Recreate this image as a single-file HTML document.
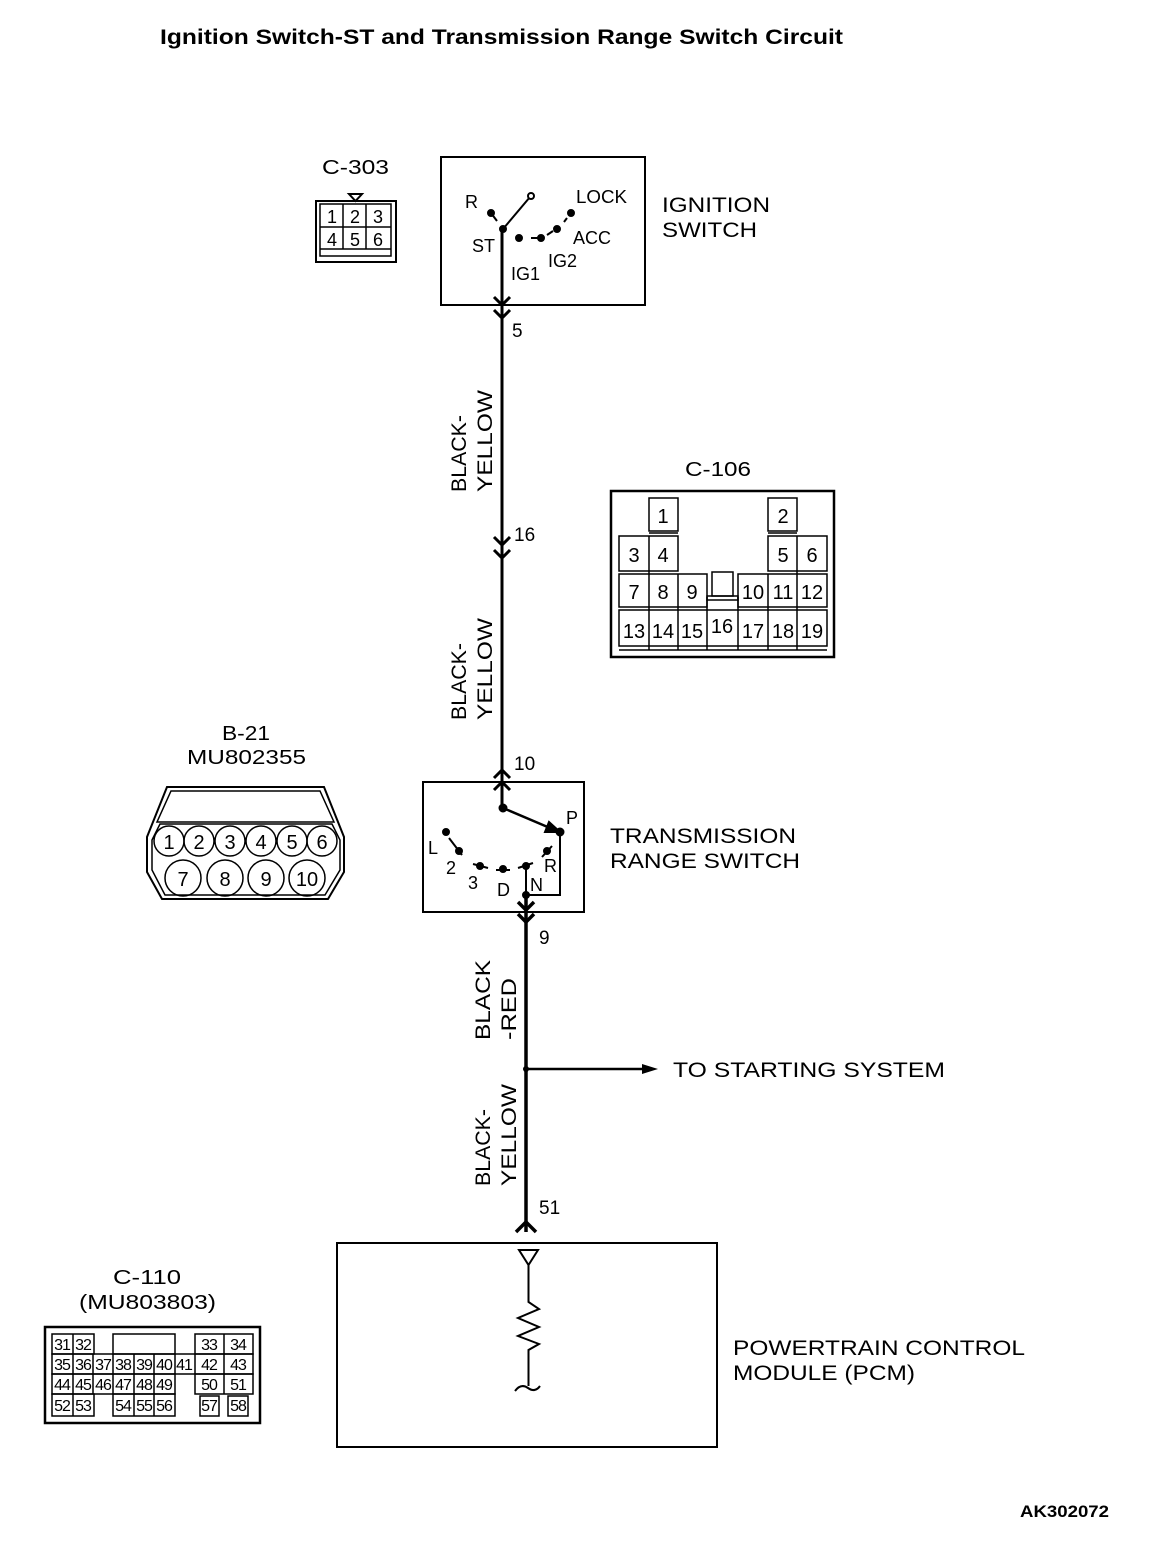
<!DOCTYPE html>
<html><head><meta charset="utf-8"><style>
html,body{margin:0;padding:0;background:#fff;}
svg{display:block;}
text{font-family:"Liberation Sans",Arial,sans-serif;fill:#000;}
</style></head><body>
<svg width="1152" height="1560" viewBox="0 0 1152 1560" xmlns="http://www.w3.org/2000/svg">
<text x="160" y="44" font-size="21" font-weight="bold" textLength="683" lengthAdjust="spacingAndGlyphs">Ignition Switch-ST and Transmission Range Switch Circuit</text>
<text x="1020" y="1517" font-size="17" font-weight="bold" textLength="89" lengthAdjust="spacingAndGlyphs">AK302072</text>

<!-- C-303 -->
<text x="322" y="174" font-size="20" textLength="67" lengthAdjust="spacingAndGlyphs">C-303</text>
<path d="M349,194 L362,194 L355.5,201 Z" fill="none" stroke="#000" stroke-width="2"/>
<rect x="316" y="201" width="80" height="61" fill="none" stroke="#000" stroke-width="2"/>
<rect x="320" y="204" width="71" height="52" fill="none" stroke="#000" stroke-width="1.5"/>
<g fill="none" stroke="#000" stroke-width="1.5">
<line x1="320" y1="227" x2="391" y2="227"/><line x1="320" y1="249" x2="391" y2="249"/>
<line x1="343" y1="204" x2="343" y2="249"/><line x1="366" y1="204" x2="366" y2="249"/>
</g>
<g font-size="18" text-anchor="middle">
<text x="332" y="223">1</text><text x="355" y="223">2</text><text x="378" y="223">3</text>
<text x="332" y="246">4</text><text x="355" y="246">5</text><text x="378" y="246">6</text>
</g>

<!-- Ignition switch -->
<rect x="441" y="157" width="204" height="148" fill="none" stroke="#000" stroke-width="2"/>
<text x="465" y="208" font-size="18">R</text>
<text x="576" y="203" font-size="18" textLength="51" lengthAdjust="spacingAndGlyphs">LOCK</text>
<text x="472" y="252" font-size="18">ST</text>
<text x="573" y="244" font-size="18">ACC</text>
<text x="548" y="267" font-size="18">IG2</text>
<text x="511" y="280" font-size="18">IG1</text>
<text x="662" y="212" font-size="21" textLength="108" lengthAdjust="spacingAndGlyphs">IGNITION</text>
<text x="662" y="237" font-size="21" textLength="95" lengthAdjust="spacingAndGlyphs">SWITCH</text>
<g stroke="#000" stroke-width="2" fill="#000">
<circle cx="491" cy="213" r="3"/><circle cx="503" cy="229" r="3"/>
<circle cx="519" cy="238" r="3"/><circle cx="541" cy="238" r="3"/>
<circle cx="557" cy="229" r="3"/><circle cx="571" cy="213" r="3"/>
<line x1="491" y1="213" x2="497" y2="221"/>
<line x1="531" y1="238" x2="538" y2="238"/>
<line x1="547" y1="235" x2="553" y2="231"/>
<line x1="567" y1="218" x2="564" y2="222"/>
<line x1="503" y1="229" x2="530" y2="197"/>
</g>
<circle cx="531" cy="196" r="3" fill="#fff" stroke="#000" stroke-width="2"/>

<!-- main wire -->
<g stroke="#000" stroke-width="3" fill="none">
<line x1="502" y1="229" x2="502" y2="808"/>
<polyline points="494,297 502,305 510,297"/>
<polyline points="494,310 502,318 510,310"/>
<polyline points="494,537 502,545 510,537"/>
<polyline points="494,550 502,558 510,550"/>
<polyline points="494,778 502,770 510,778"/>
<polyline points="494,790 502,782 510,790"/>
</g>
<text x="512" y="337" font-size="19">5</text>
<text x="514" y="541" font-size="19">16</text>
<text x="514" y="770" font-size="19">10</text>
<g font-size="21">
<text transform="translate(466,492) rotate(-90)" textLength="77" lengthAdjust="spacingAndGlyphs">BLACK-</text>
<text transform="translate(492,492) rotate(-90)" textLength="102" lengthAdjust="spacingAndGlyphs">YELLOW</text>
<text transform="translate(466,720) rotate(-90)" textLength="77" lengthAdjust="spacingAndGlyphs">BLACK-</text>
<text transform="translate(492,720) rotate(-90)" textLength="102" lengthAdjust="spacingAndGlyphs">YELLOW</text>
</g>

<!-- C-106 -->
<text x="685" y="476" font-size="20" textLength="66" lengthAdjust="spacingAndGlyphs">C-106</text>
<rect x="611" y="491" width="223" height="166" fill="none" stroke="#000" stroke-width="2.5"/>
<g fill="none" stroke="#000" stroke-width="1.5">
<rect x="649" y="498" width="29" height="33"/>
<rect x="768" y="498" width="29" height="33"/>
<rect x="619" y="536" width="59" height="35"/>
<line x1="649" y1="536" x2="649" y2="650"/>
<rect x="768" y="536" width="59" height="35"/>
<line x1="797" y1="536" x2="797" y2="650"/>
<rect x="619" y="574" width="88" height="33"/>
<line x1="678" y1="574" x2="678" y2="650"/>
<rect x="738" y="574" width="89" height="33"/>
<line x1="768" y1="574" x2="768" y2="650"/>
<rect x="619" y="610" width="208" height="36"/>
<line x1="707" y1="597" x2="707" y2="650"/><line x1="738" y1="597" x2="738" y2="650"/>
<rect x="707" y="596" width="31" height="4"/>
<rect x="712" y="572" width="21" height="24"/>
<line x1="619" y1="650" x2="827" y2="650"/>
<line x1="649" y1="533" x2="678" y2="533"/><line x1="768" y1="533" x2="797" y2="533"/>
</g>
<g font-size="20" text-anchor="middle">
<text x="663" y="523">1</text><text x="783" y="523">2</text>
<text x="634" y="562">3</text><text x="663" y="562">4</text><text x="783" y="562">5</text><text x="812" y="562">6</text>
<text x="634" y="599">7</text><text x="663" y="599">8</text><text x="692" y="599">9</text>
<text x="753" y="599">10</text><text x="783" y="599">11</text><text x="812" y="599">12</text>
<text x="634" y="638">13</text><text x="663" y="638">14</text><text x="692" y="638">15</text>
<text x="722" y="633">16</text>
<text x="753" y="638">17</text><text x="783" y="638">18</text><text x="812" y="638">19</text>
</g>

<!-- B-21 -->
<text x="222" y="740" font-size="20" textLength="48" lengthAdjust="spacingAndGlyphs">B-21</text>
<text x="187" y="764" font-size="20" textLength="119" lengthAdjust="spacingAndGlyphs">MU802355</text>
<path d="M167,787 L324,787 L344,837 L344,872 L328,899 L162,899 L147,872 L147,837 Z" fill="none" stroke="#000" stroke-width="2"/>
<path d="M171,791 L320,791 L334,822 L157,822 Z" fill="none" stroke="#000" stroke-width="1.5"/>
<path d="M152,840 L160,824 L332,824 L340,840 L340,870 L325,895 L165,895 L152,870 Z" fill="none" stroke="#000" stroke-width="1.5"/>
<g fill="none" stroke="#000" stroke-width="1.5">
<circle cx="169" cy="841" r="15"/><circle cx="199" cy="841" r="15"/><circle cx="230" cy="841" r="15"/>
<circle cx="261" cy="841" r="15"/><circle cx="292" cy="841" r="15"/><circle cx="322" cy="841" r="15"/>
<circle cx="183" cy="878" r="18"/><circle cx="225" cy="878" r="18"/><circle cx="266" cy="878" r="18"/><circle cx="307" cy="878" r="18"/>
</g>
<g font-size="20" text-anchor="middle">
<text x="169" y="849">1</text><text x="199" y="849">2</text><text x="230" y="849">3</text>
<text x="261" y="849">4</text><text x="292" y="849">5</text><text x="322" y="849">6</text>
<text x="183" y="886">7</text><text x="225" y="886">8</text><text x="266" y="886">9</text><text x="307" y="886">10</text>
</g>

<!-- Transmission range switch -->
<rect x="423" y="782" width="161" height="130" fill="none" stroke="#000" stroke-width="2"/>
<g stroke="#000" stroke-width="2" fill="#000">
<line x1="503" y1="808" x2="550" y2="828" stroke-width="2.5"/>
<path d="M560,832 L545,832 L549,822 Z"/>
<circle cx="503" cy="808" r="3.5"/>
<circle cx="560" cy="832" r="3.5"/>
<circle cx="446" cy="832" r="3"/><circle cx="459" cy="851" r="3"/><circle cx="480" cy="866" r="3"/>
<circle cx="503" cy="869" r="3"/><circle cx="526" cy="866" r="3"/><circle cx="547" cy="851" r="3"/>
<line x1="449" y1="838" x2="462" y2="855"/>
<line x1="473" y1="864" x2="488" y2="868"/>
<line x1="496" y1="870" x2="510" y2="870"/>
<line x1="518" y1="868" x2="533" y2="863"/>
<line x1="542" y1="857" x2="552" y2="846"/>
<polyline points="560,832 560,895 526,895 526,866" fill="none"/>
<circle cx="526" cy="895" r="3"/>
</g>
<text x="566" y="824" font-size="18">P</text>
<text x="428" y="854" font-size="18">L</text>
<text x="446" y="874" font-size="18">2</text>
<text x="468" y="889" font-size="18">3</text>
<text x="497" y="896" font-size="18">D</text>
<text x="530" y="891" font-size="18">N</text>
<text x="544" y="872" font-size="18">R</text>
<text x="610" y="843" font-size="21" textLength="186" lengthAdjust="spacingAndGlyphs">TRANSMISSION</text>
<text x="610" y="868" font-size="21" textLength="190" lengthAdjust="spacingAndGlyphs">RANGE SWITCH</text>

<!-- lower wire -->
<g stroke="#000" stroke-width="3.5" fill="none">
<line x1="526" y1="895" x2="526" y2="1232"/>
<polyline points="518,902 526,910 534,902"/>
<polyline points="518,914 526,922 534,914"/>
<polyline points="516,1232 526,1222 536,1232"/>
<line x1="526" y1="1069" x2="645" y2="1069" stroke-width="2.5"/>
</g>
<path d="M658,1069 L642,1064 L642,1074 Z" fill="#000"/>
<circle cx="526" cy="1069" r="3" fill="#000"/>
<text x="539" y="944" font-size="19">9</text>
<text x="539" y="1214" font-size="19">51</text>
<text x="673" y="1077" font-size="21" textLength="272" lengthAdjust="spacingAndGlyphs">TO STARTING SYSTEM</text>
<g font-size="21">
<text transform="translate(490,1040) rotate(-90)" textLength="80" lengthAdjust="spacingAndGlyphs">BLACK</text>
<text transform="translate(516,1040) rotate(-90)" textLength="62" lengthAdjust="spacingAndGlyphs">-RED</text>
<text transform="translate(490,1186) rotate(-90)" textLength="77" lengthAdjust="spacingAndGlyphs">BLACK-</text>
<text transform="translate(516,1186) rotate(-90)" textLength="102" lengthAdjust="spacingAndGlyphs">YELLOW</text>
</g>

<!-- PCM -->
<rect x="337" y="1243" width="380" height="204" fill="none" stroke="#000" stroke-width="2"/>
<path d="M519,1250 L538,1250 L528.5,1265 Z" fill="none" stroke="#000" stroke-width="2"/>
<polyline points="528.5,1265 528.5,1302 539,1309 518,1318 539,1327 518,1336 539,1344 528.5,1350 528.5,1386" fill="none" stroke="#000" stroke-width="2"/>
<path d="M515,1391 Q521,1383 528,1388 Q535,1393 540,1386" fill="none" stroke="#000" stroke-width="2"/>
<text x="733" y="1355" font-size="21" textLength="292" lengthAdjust="spacingAndGlyphs">POWERTRAIN CONTROL</text>
<text x="733" y="1380" font-size="21" textLength="182" lengthAdjust="spacingAndGlyphs">MODULE (PCM)</text>

<!-- C-110 -->
<text x="113" y="1284" font-size="20" textLength="68" lengthAdjust="spacingAndGlyphs">C-110</text>
<text x="79" y="1309" font-size="20" textLength="137" lengthAdjust="spacingAndGlyphs">(MU803803)</text>
<rect x="45" y="1327" width="215" height="96" fill="none" stroke="#000" stroke-width="2.5"/>
<g fill="none" stroke="#000" stroke-width="1.5">
<rect x="52" y="1334" width="42" height="20"/><line x1="73" y1="1334" x2="73" y2="1354"/>
<rect x="113" y="1334" width="62" height="20"/>
<rect x="195" y="1334" width="58" height="20"/><line x1="224" y1="1334" x2="224" y2="1354"/>
<rect x="52" y="1354" width="201" height="20"/>
<rect x="52" y="1374" width="123" height="20"/>
<rect x="195" y="1374" width="58" height="20"/>
<line x1="73" y1="1354" x2="73" y2="1416"/>
<line x1="93" y1="1354" x2="93" y2="1394"/>
<line x1="113" y1="1354" x2="113" y2="1394"/>
<line x1="134" y1="1354" x2="134" y2="1394"/>
<line x1="154" y1="1354" x2="154" y2="1394"/>
<line x1="175" y1="1354" x2="175" y2="1374"/>
<line x1="195" y1="1354" x2="195" y2="1374"/>
<line x1="224" y1="1354" x2="224" y2="1394"/>
<rect x="52" y="1394" width="42" height="22"/>
<rect x="113" y="1394" width="62" height="22"/><line x1="134" y1="1394" x2="134" y2="1416"/><line x1="154" y1="1394" x2="154" y2="1416"/>
<rect x="200" y="1396" width="19" height="20"/>
<rect x="228" y="1396" width="20" height="20"/>
</g>
<g font-size="16" text-anchor="middle" letter-spacing="-1">
<text x="62" y="1350">31</text><text x="83" y="1350">32</text><text x="209" y="1350">33</text><text x="238" y="1350">34</text>
<text x="62" y="1370">35</text><text x="83" y="1370">36</text><text x="103" y="1370">37</text><text x="123" y="1370">38</text><text x="144" y="1370">39</text><text x="164" y="1370">40</text><text x="184" y="1370">41</text><text x="209" y="1370">42</text><text x="238" y="1370">43</text>
<text x="62" y="1390">44</text><text x="83" y="1390">45</text><text x="103" y="1390">46</text><text x="123" y="1390">47</text><text x="144" y="1390">48</text><text x="164" y="1390">49</text><text x="209" y="1390">50</text><text x="238" y="1390">51</text>
<text x="62" y="1411">52</text><text x="83" y="1411">53</text><text x="123" y="1411">54</text><text x="144" y="1411">55</text><text x="164" y="1411">56</text><text x="209" y="1411">57</text><text x="238" y="1411">58</text>
</g>
</svg>
</body></html>
